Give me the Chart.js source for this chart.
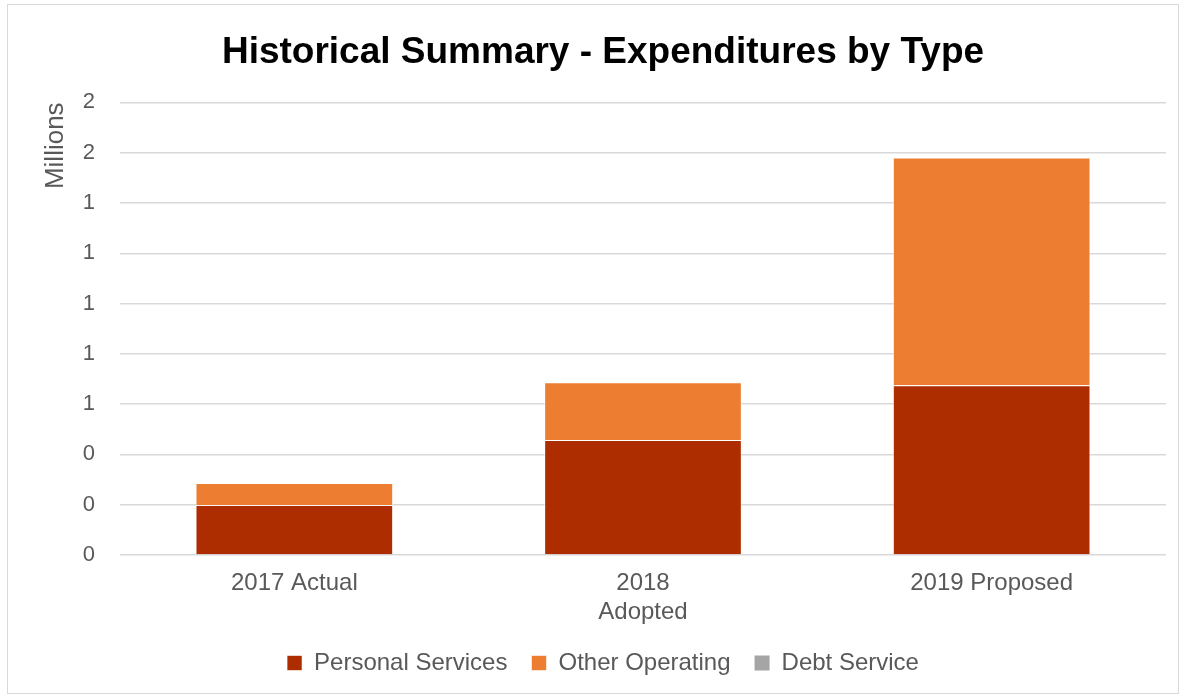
<!DOCTYPE html>
<html>
<head>
<meta charset="utf-8">
<title>Historical Summary - Expenditures by Type</title>
<script src="https://cdn.jsdelivr.net/npm/chart.js@4.4.1/dist/chart.umd.min.js"></script>
<style>
    html, body { margin: 0; padding: 0; background: #fff; }
    .frame {
        position: absolute; left: 7px; top: 4px; width: 1172px; height: 690px;
        border: 1px solid #d9d9d9; box-sizing: border-box;
    }
    .chart-box { position: absolute; left: 0; top: 0; width: 1186px; height: 698px; }
</style>
</head>
<body>
<div class="frame"></div>
<div class="chart-box"><canvas id="expChart" width="1186" height="698"></canvas></div>
<script>
// values in millions
const categories = ['2017 Actual', ['2018', 'Adopted'], '2019 Proposed'];
const personalServices = [0.199, 0.457, 0.675];
const otherOperating = [0.087, 0.230, 0.906];
const debtService = [0, 0, 0];

const textColor = '#595959';
const fontFamily = '"Liberation Sans", Arial, sans-serif';

document.addEventListener('DOMContentLoaded', () => {
    const ctx = document.getElementById('expChart');

    new Chart(ctx, {
        type: 'bar',
        data: {
            labels: categories,
            datasets: [
                {
                    label: 'Personal Services',
                    data: personalServices,
                    backgroundColor: '#ae2d00',
                    borderColor: 'rgba(255,255,255,0.6)',
                    borderWidth: 1
                },
                {
                    label: 'Other Operating',
                    data: otherOperating,
                    backgroundColor: '#ed7d31',
                    borderColor: 'rgba(255,255,255,0.6)',
                    borderWidth: 1
                },
                {
                    label: 'Debt Service',
                    data: debtService,
                    backgroundColor: '#a5a5a5',
                    borderWidth: 0
                }
            ]
        },
        options: {
            responsive: false,
            animation: false,
            layout: { padding: { left: 40, right: 20, top: 0, bottom: 13 } },
            datasets: {
                bar: { barPercentage: 0.567, categoryPercentage: 1.0 }
            },
            scales: {
                x: {
                    stacked: true,
                    grid: { display: false, drawTicks: false },
                    border: { display: false },
                    ticks: {
                        color: textColor,
                        font: { family: fontFamily, size: 24 },
                        padding: 14,
                        maxRotation: 0
                    },
                    afterFit: (s) => { s.height = 72; }
                },
                y: {
                    stacked: true,
                    min: 0,
                    max: 1.8,
                    grid: { color: '#d9d9d9', lineWidth: 1.5, drawTicks: false },
                    border: { display: false },
                    ticks: {
                        stepSize: 0.2,
                        color: textColor,
                        font: { family: fontFamily, size: 22 },
                        padding: 25,
                        callback: (v) => Math.round(v)
                    },
                    title: {
                        display: true,
                        text: 'Millions',
                        align: 'end',
                        color: textColor,
                        font: { family: fontFamily, size: 26 },
                        padding: { top: 0, bottom: 0 }
                    },
                    afterFit: (s) => { s.width = 80; }
                }
            },
            plugins: {
                title: {
                    display: true,
                    text: 'Historical Summary - Expenditures by Type',
                    color: '#000',
                    font: { family: fontFamily, size: 37, weight: 'bold' },
                    padding: { top: 31, bottom: 27 }
                },
                legend: {
                    position: 'bottom',
                    labels: {
                        color: textColor,
                        font: { family: fontFamily, size: 24 },
                        boxWidth: 15,
                        boxHeight: 15,
                        padding: 24
                    }
                },
                tooltip: { enabled: false }
            }
        }
    });
});
</script>
</body>
</html>
